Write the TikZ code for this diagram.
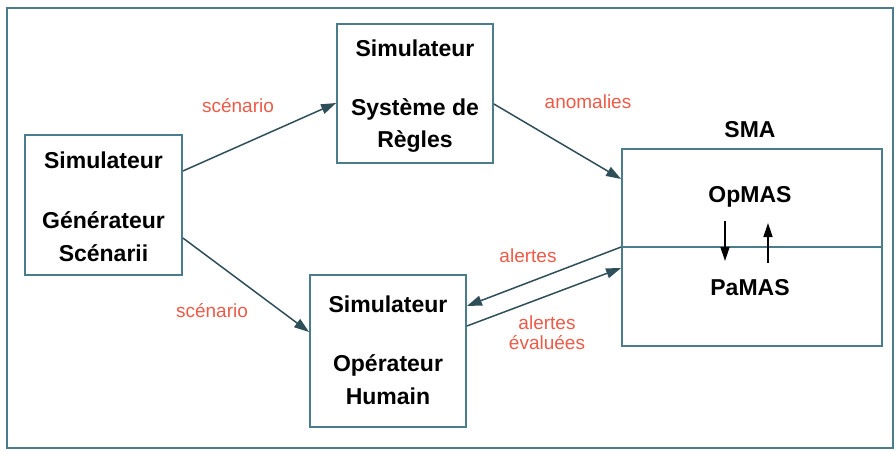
\documentclass[tikz,border=0pt]{standalone}
\usepackage{fontspec}
\setmainfont{Liberation Sans}
\usetikzlibrary{arrows.meta,calc}
\definecolor{framec}{HTML}{4A7C8C}
\definecolor{arrowc}{HTML}{2E4E5A}
\definecolor{lab}{HTML}{EE5A48}
\tikzset{
  boxc/.style={draw=framec, line width=1.8pt, inner sep=0pt},
  btxt/.style={font=\fontsize{23}{26}\selectfont\bfseries, inner sep=0pt, anchor=center},
  ltxt/.style={font=\fontsize{19}{21}\selectfont, text=lab, inner sep=0pt, anchor=center, align=center},
  arr/.style={draw=arrowc, line width=1.5pt, -{Triangle[length=15pt,width=10pt]}},
  sarr/.style={draw=black, line width=1.5pt, -{Triangle[length=14pt,width=9pt]}},
}
\begin{document}
\begin{tikzpicture}[x=1pt,y=-1pt]
\useasboundingbox (0,0) rectangle (896,450);
\draw[draw=framec, line width=1.5pt] (7,8) rectangle (893,448);
% boxes
\node[boxc, minimum width=157pt, minimum height=140pt] (gen) at (103.5,205) {};
\node[boxc, minimum width=156pt, minimum height=139pt] (rules) at (415,93.5) {};
\node[boxc, minimum width=156pt, minimum height=152pt] (oper) at (388,351) {};
\node[boxc, minimum width=260pt, minimum height=197pt] (sma) at (752,247.5) {};
\coordinate (sw) at (sma.west |- 0,247);
\coordinate (se) at (sma.east |- 0,247);
\draw[draw=framec, line width=2pt] (sw) -- (se);
% texts
\node[btxt] (g1) at (103.5,160) {Simulateur};
\node[btxt] (g2) at (103.5,220) {Générateur};
\node[btxt] (g3) at (103.5,253) {Scénarii};
\node[btxt] (r1) at (415,48) {Simulateur};
\node[btxt] (r2) at (415,109) {Système de};
\node[btxt] (r3) at (415,141) {Règles};
\node[btxt] (o1) at (388,304) {Simulateur};
\node[btxt] (o2) at (388,365) {Opérateur};
\node[btxt] (o3) at (388,396) {Humain};
\node[btxt] (smat) at (750,130) {SMA};
\node[btxt] (op) at (750,197) {OpMAS};
\node[btxt] (pa) at (750,288) {PaMAS};
% connectors
\draw[arr] (gen.east |- 0,171) -- (rules.west |- 0,103);
\draw[arr] (gen.east |- 0,238) -- (oper.west |- 0,332);
\draw[arr] (rules.east |- 0,104) -- (sma.west |- 0,179);
\draw[arr] (sw) -- (oper.east |- 0,306);
\draw[arr] (oper.east |- 0,326) -- (sma.west |- 0,268);
\coordinate (d1) at (725,221);
\coordinate (d2) at (725,261);
\coordinate (u1) at (768,263);
\coordinate (u2) at (768,223);
\draw[sarr] (d1) -- (d2);
\draw[sarr] (u1) -- (u2);
% labels
\node[ltxt] (l1) at (238,106) {scénario};
\node[ltxt] (l2) at (212,311) {scénario};
\node[ltxt] (l3) at (588,102) {anomalies};
\node[ltxt] (l4) at (528,256) {alertes};
\node[ltxt, font=\fontsize{19}{20}\selectfont] (l5) at (547,333) {alertes\\évaluées};
\end{tikzpicture}
\end{document}
